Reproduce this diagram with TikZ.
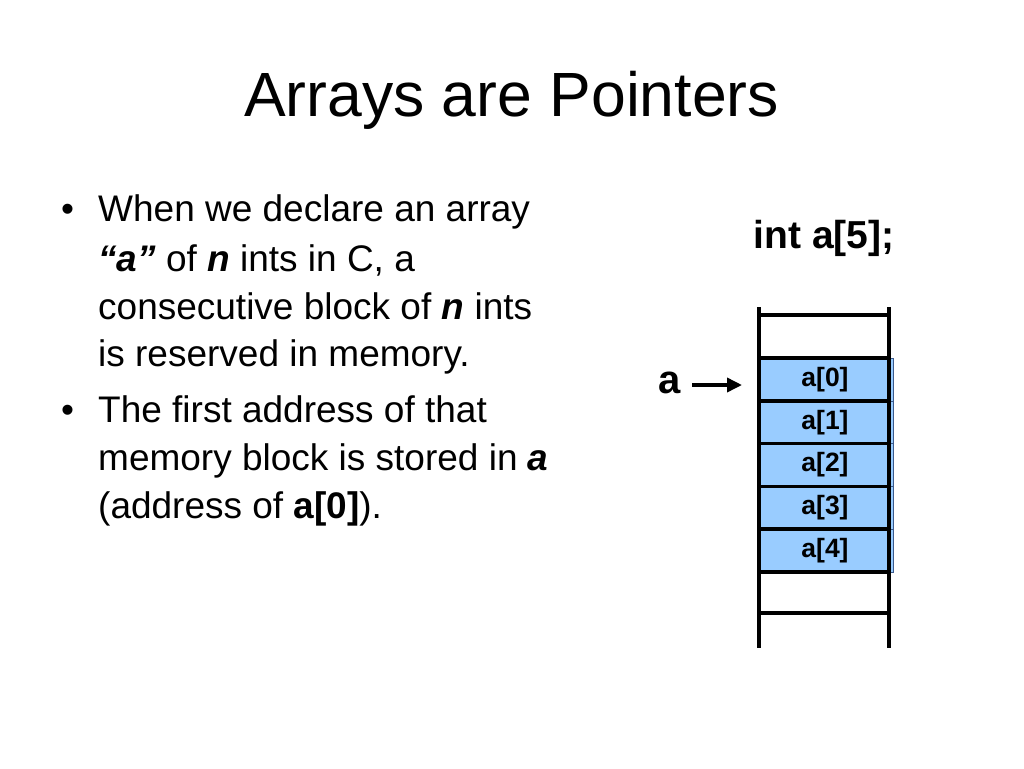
\documentclass[tikz,border=0pt]{standalone}
\usepackage{fontspec}
\setmainfont{Liberation Sans}
\usetikzlibrary{arrows.meta}
\definecolor{cellblue}{RGB}{153,204,255}
\definecolor{celledge}{RGB}{60,90,140}
\begin{document}
\begin{tikzpicture}[x=1pt,y=-1pt,
  txt/.style={inner sep=0pt, anchor=base west, font=\fontsize{37}{42}\selectfont},
  cell/.style={fill=cellblue, draw=celledge, line width=0.6pt, minimum width=136pt, minimum height=42.8pt, inner sep=0pt, font=\fontsize{26.5}{28}\selectfont\bfseries},
  mem/.style={line width=3.5pt, black},
  ptr/.style={line width=3.5pt, -{Triangle[length=15pt,width=14pt]}}]
\useasboundingbox[fill=white] (0,0) rectangle (1024,768);
% title
\node[inner sep=0pt, anchor=base, font=\fontsize{62.5}{66}\selectfont] (title) at (511.5,116.7) {Arrays are Pointers};
% bullets
\node[txt] (b1) at (61,221.7) {\textbullet};
\node[txt] (l1) at (98,221.7) {When we declare an array};
\node[txt] (l2) at (98,271) {\textbf{\textit{“a”}} of \textbf{\textit{n}} ints in C, a};
\node[txt] (l3) at (98,319) {consecutive block of \textbf{\textit{n}} ints};
\node[txt] (l4) at (98,366.7) {is reserved in memory.};
\node[txt] (b2) at (61,422.3) {\textbullet};
\node[txt] (l5) at (98,422.3) {The first address of that};
\node[txt] (l6) at (98,470) {memory block is stored in \textbf{\textit{a}}};
\node[txt] (l7) at (98,518) {(address of \textbf{a[0]}).};
% declaration
\node[inner sep=0pt, anchor=base, font=\fontsize{39}{42}\selectfont\bfseries] (decl) at (824,248.3) {int a[5];};
% memory cells
\foreach \i in {0,...,4} {
  \node[cell] (c\i) at (825,{379.4+\i*42.8}) {a[\i]};
}
% memory frame
\draw[mem] (759,307) -- (759,648);
\draw[mem] (889,307) -- (889,648);
\draw[mem] (759,315) -- (889,315);
\foreach \i in {0,...,5} {
  \draw[mem] (759,{358+\i*42.8}) -- (889,{358+\i*42.8});
}
\draw[mem] (759,613) -- (889,613);
% pointer
\node[inner sep=0pt, anchor=base, font=\fontsize{40}{42}\selectfont\bfseries] (alabel) at (670,393) {a};
\coordinate (astart) at (692,385);
\coordinate (atip) at (742,385);
\draw[ptr] (astart) -- (atip);
\end{tikzpicture}
\end{document}
